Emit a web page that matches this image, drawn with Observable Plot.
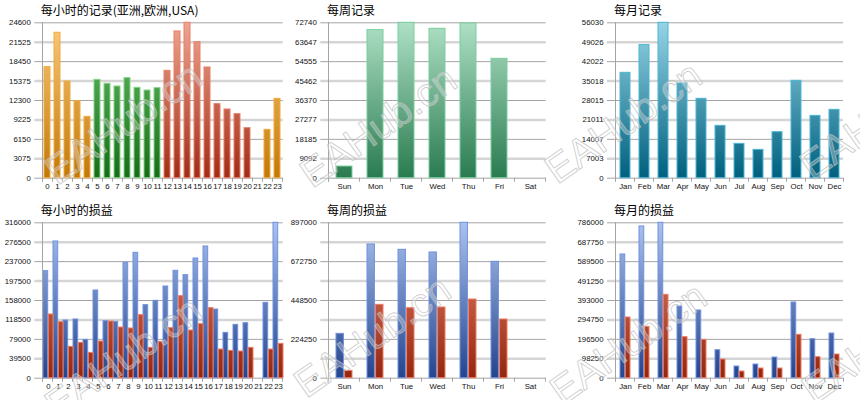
<!DOCTYPE html>
<html>
<head>
<meta charset="utf-8">
<script src="https://cdn.jsdelivr.net/npm/d3@7"></script>
<script src="https://cdn.jsdelivr.net/npm/@observablehq/plot@0.6"></script>
<style>
  body { margin: 0; background: #fff; }
  #board { position: relative; width: 860px; height: 400px; overflow: hidden; background: #fff; }
  .panel { position: absolute; }
  .title { position: absolute; font: 12px/12px "Noto Sans CJK SC", sans-serif; color: #000; white-space: nowrap; }
  #mark { position: absolute; left: 0; top: 0; pointer-events: none; }
</style>
</head>
<body>
<div id="board"></div>
<script>
// ---- categories ----
const hourLabels = ["0","1","2","3","4","5","6","7","8","9","10","11","12","13","14","15","16","17","18","19","20","21","22","23"];
const hourRegions = ["asia","asia","asia","asia","asia","europe","europe","europe","europe","europe","europe","europe","usa","usa","usa","usa","usa","usa","usa","usa","usa","usa","asia","asia"];
const weekdays = ["Sun","Mon","Tue","Wed","Thu","Fri","Sat"];
const months = ["Jan","Feb","Mar","Apr","May","Jun","Jul","Aug","Sep","Oct","Nov","Dec"];

// ---- record counts ----
const hourlyRecords = [17580, 23020, 15310, 12190, 9710, 15570, 14940, 14520, 15840, 14310, 13880, 14250, 17000, 23230, 24600, 21540, 17530, 11720, 10880, 10140, 7920, 0, 7650, 12560];
const weeklyRecords = [5460, 69310, 72740, 69930, 72430, 55880, 0];
const monthlyRecords = [37990, 47970, 56030, 34150, 28620, 18880, 12380, 10220, 16590, 35110, 22480, 24650];

// ---- profit (blue) and loss (red) ----
const hourlyProfit = [217670, 278030, 117310, 119350, 77980, 178340, 115960, 114600, 234630, 254970, 148510, 157320, 186480, 218350, 209540, 243440, 267850, 139690, 92220, 108500, 111890, 0, 153250, 316000];
const hourlyLoss = [129520, 113920, 63740, 71880, 51540, 74590, 115280, 103070, 101040, 128160, 61710, 73910, 101720, 166820, 96970, 109850, 142400, 58320, 55610, 54250, 61710, 0, 58320, 69850];
const weeklyProfit = [256020, 771890, 741090, 725690, 897000, 671790, 0];
const weeklyLoss = [42350, 423490, 404240, 408090, 454290, 338790, 0];
const monthlyProfit = [625790, 767450, 786000, 362650, 342410, 141690, 59030, 69160, 104580, 382890, 197350, 226020];
const monthlyLoss = [306990, 259760, 421670, 207470, 193970, 94460, 33730, 48910, 48910, 219280, 106260, 119760];

// ---- y-axis tick values ----
const hourlyRecordTicks = [0, 3075, 6150, 9225, 12300, 15375, 18450, 21525, 24600];
const weeklyRecordTicks = [0, 9092, 18185, 27277, 36370, 45462, 54555, 63647, 72740];
const monthlyRecordTicks = [0, 7003, 14007, 21011, 28015, 35018, 42022, 49026, 56030];
const hourlyPnlTicks = [0, 39500, 79000, 118500, 158000, 197500, 237000, 276500, 316000];
const weeklyPnlGrid = [0, 112125, 224250, 336375, 448500, 560625, 672750, 784875, 897000];
const weeklyPnlTicks = [0, 224250, 448500, 672750, 897000];
const monthlyPnlTicks = [0, 98250, 196500, 294750, 393000, 491250, 589500, 687750, 786000];

// ---- bar palettes: gradient top, gradient bottom, edge ----
const palette = {
  asia:   {top: "#f9ca7c", bottom: "#c27808", edge: "#f3aa3a"},
  europe: {top: "#6cc46c", bottom: "#156d18", edge: "#86d486"},
  usa:    {top: "#efa590", bottom: "#a02c16", edge: "#ea7f69"},
  week:   {top: "#aee0c5", bottom: "#2a7b51", edge: "#78cf9d"},
  month:  {top: "#95d4e5", bottom: "#00607e", edge: "#4ab7d6"},
  profit: {top: "#abc2ef", bottom: "#24448c", edge: "#6f92e0"},
  loss:   {top: "#ee8c72", bottom: "#93260e", edge: "#f07a62"}
};

const rows = (cats, values) => cats.map((c, i) => ({cat: c, value: values[i]}));

const board = document.getElementById("board");
let gradSeq = 0;

function drawPanel(cfg) {
  const {left, top, width, height = 200, ml, mr, mt = 22.3, mb = 22.3, title, titleX,
         cats, pad, grid, ticks, bars, grouped = false} = cfg;
  const n = cats.length;
  const step = (width - ml - mr) / n;
  const bw = step * (1 - pad);
  const grads = [];
  const marks = [
    Plot.ruleY(grid.filter((d, i) => i % 2 === 1), {stroke: "#d5d5d5", strokeWidth: 2.5, insetLeft: -8}),
    Plot.ruleY(grid.filter((d, i) => i % 2 === 0), {stroke: "#a4a4a4", strokeWidth: 1, insetLeft: -8})
  ];
  bars.forEach((b, k) => {
    const id = "g" + (gradSeq++);
    grads.push({id, ...palette[b.color]});
    const half = bw / 2;
    const insets = !grouped ? {} : (k === 0 ? {insetRight: half + 0.5} : {insetLeft: half + 0.5});
    marks.push(Plot.barY(b.data, {x: "cat", y: "value", fill: `url(#${id})`, stroke: palette[b.color].edge, strokeWidth: 1, ...insets}));
  });
  const plot = Plot.plot({
    width, height, marginLeft: ml, marginRight: mr, marginTop: mt, marginBottom: mb,
    style: {fontFamily: "'Liberation Sans', Arial, sans-serif", fontSize: "7.8px", color: "#111", background: "transparent", overflow: "visible"},
    x: {type: "band", domain: cats, paddingInner: pad, paddingOuter: pad / 2, tickSize: 0, tickPadding: 5, label: null},
    y: {domain: [0, grid[grid.length - 1]], ticks, tickFormat: d3.format("d"), tickSize: 0, tickPadding: 12, label: null},
    marks
  });
  const svg = d3.select(plot);
  const defs = svg.insert("defs", ":first-child");
  const y0 = height - mb;
  for (const g of grads) {
    const lg = defs.append("linearGradient").attr("id", g.id).attr("gradientUnits", "userSpaceOnUse")
      .attr("x1", 0).attr("x2", 0).attr("y1", mt).attr("y2", y0);
    lg.append("stop").attr("offset", 0).attr("stop-color", g.top);
    lg.append("stop").attr("offset", 1).attr("stop-color", g.bottom);
  }
  // axis line and tick marks at category boundaries
  const xs = plot.scale("x");
  const x0 = xs.range[0];
  const ax = svg.append("g").attr("stroke", "#a4a4a4").attr("stroke-width", 1);
  d3.range(n + 1).forEach(i => {
    const x = Math.round(x0 + i * xs.step) + 0.5;
    ax.append("line").attr("x1", x).attr("x2", x).attr("y1", y0).attr("y2", y0 + 4);
  });
  const xa = Math.round(x0) + 0.5;
  ax.append("line").attr("x1", xa).attr("x2", xa).attr("y1", mt).attr("y2", y0 + 4);

  const wrap = document.createElement("div");
  wrap.className = "panel";
  wrap.style.left = left + "px";
  wrap.style.top = top + "px";
  wrap.style.width = width + "px";
  wrap.appendChild(plot);
  board.appendChild(wrap);

  const t = document.createElement("div");
  t.className = "title";
  t.textContent = title;
  t.style.left = titleX + "px";
  t.style.top = (top + 4.4) + "px";
  board.appendChild(t);
}

// hourly records, coloured by trading session
const hourRows = hourLabels.map((h, i) => ({cat: h, value: hourlyRecords[i], region: hourRegions[i]}));

drawPanel({left: 0, top: 0, width: 290, ml: 42.3, mr: 7.3, title: "每小时的记录(亚洲,欧洲,USA)", titleX: 40.7,
  cats: hourLabels, pad: 0.4, grid: hourlyRecordTicks, ticks: hourlyRecordTicks,
  bars: ["asia", "europe", "usa"].map(r => ({color: r, data: hourRows.filter(d => d.region === r)}))});

drawPanel({left: 290, top: 0, width: 285, ml: 38.3, mr: 29.3, title: "每周记录", titleX: 327,
  cats: weekdays, pad: 0.5, grid: weeklyRecordTicks, ticks: weeklyRecordTicks,
  bars: [{color: "week", data: rows(weekdays, weeklyRecords)}]});

drawPanel({left: 575, top: 0, width: 285, ml: 40, mr: 17, title: "每月记录", titleX: 614,
  cats: months, pad: 0.5, grid: monthlyRecordTicks, ticks: monthlyRecordTicks,
  bars: [{color: "month", data: rows(months, monthlyRecords)}]});

drawPanel({left: 0, top: 200, width: 290, ml: 42.3, mr: 7.3, title: "每小时的损益", titleX: 40.7,
  cats: hourLabels, pad: 0.04, grid: hourlyPnlTicks, ticks: hourlyPnlTicks, grouped: true,
  bars: [{color: "profit", data: rows(hourLabels, hourlyProfit)}, {color: "loss", data: rows(hourLabels, hourlyLoss)}]});

drawPanel({left: 290, top: 200, width: 285, ml: 38.3, mr: 29.3, title: "每周的损益", titleX: 327,
  cats: weekdays, pad: 0.48, grid: weeklyPnlGrid, ticks: weeklyPnlTicks, grouped: true,
  bars: [{color: "profit", data: rows(weekdays, weeklyProfit)}, {color: "loss", data: rows(weekdays, weeklyLoss)}]});

drawPanel({left: 575, top: 200, width: 285, ml: 40, mr: 17, title: "每月的损益", titleX: 614,
  cats: months, pad: 0.5, grid: monthlyPnlTicks, ticks: monthlyPnlTicks, grouped: true,
  bars: [{color: "profit", data: rows(months, monthlyProfit)}, {color: "loss", data: rows(months, monthlyLoss)}]});

// site watermark
const markSpots = [[123, 123], [378, 126], [623, 122], [878, 118], [123, 357], [372, 336], [628, 343], [880, 342]];
const ns = "http://www.w3.org/2000/svg";
const wm = d3.select(board).append("svg").attr("id", "mark").attr("width", 860).attr("height", 400);
markSpots.forEach(([x, y]) => {
  wm.append("text")
    .attr("transform", `translate(${x},${y}) rotate(-35)`)
    .attr("text-anchor", "middle").attr("dominant-baseline", "central")
    .attr("font-family", "'Liberation Sans', Arial, sans-serif").attr("font-size", 40)
    .attr("fill", "#fff").attr("fill-opacity", 0.3)
    .attr("stroke", "#bdbdbd").attr("stroke-width", 0.9).attr("stroke-opacity", 0.75)
    .text("EAHub.cn");
});
</script>
</body>
</html>
